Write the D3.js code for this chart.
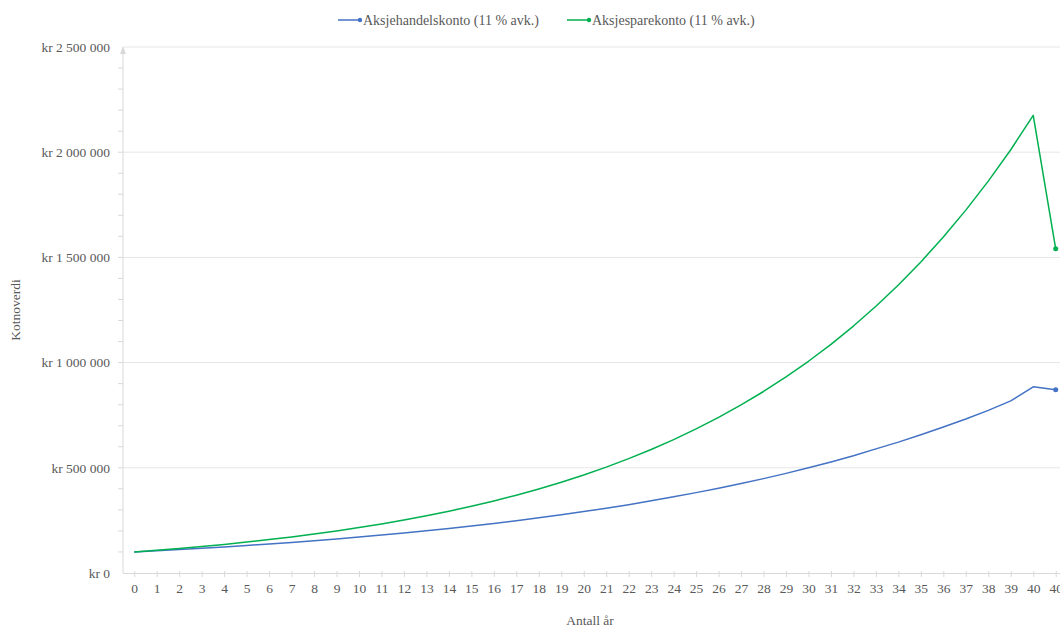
<!DOCTYPE html>
<html>
<head>
<meta charset="utf-8">
<script src="https://cdn.jsdelivr.net/npm/d3@7"></script>
<style>
  html, body { margin: 0; padding: 0; background: #fff; }
  svg { display: block; }
  text { font-family: "Liberation Serif", "Times New Roman", serif; fill: #595959; }
</style>
</head>
<body>
<svg id="chart" width="1060" height="631"></svg>
<script>
// Year labels along the x axis (the final year appears twice: before and after withdrawal)
const years = ["0","1","2","3","4","5","6","7","8","9","10","11","12","13","14","15","16","17","18","19","20",
  "21","22","23","24","25","26","27","28","29","30","31","32","33","34","35","36","37","38","39","40","40"];

// Account value per year, trading account
const aksjehandelskonto = [100000,105500,111300,117400,123900,130700,137900,145500,153500,161900,170800,
  180200,190100,200600,211600,223300,235500,248500,262100,276600,291800,
  307800,324800,343000,362000,382000,403000,425000,448500,473500,500000,
  527500,557000,590000,622000,657000,694000,732000,773000,818000,885000,871000];

// Account value per year, share savings account
const aksjesparekonto = [100000,108000,116600,126000,136000,146900,158700,171400,185100,199900,215900,
  233200,251800,272000,293700,317200,342600,370000,399600,431600,466100,
  503400,543700,587200,634100,684800,739600,798800,862700,931700,1006300,
  1086800,1173700,1267700,1369100,1478600,1596900,1724700,1862700,2011700,2175000,1541000];

const seriesNames = ["Aksjehandelskonto (11 % avk.)", "Aksjesparekonto (11 % avk.)"];
const seriesColors = ["#4472C4", "#00B050"];
const yTicks = [0, 500000, 1000000, 1500000, 2000000, 2500000];
const yMinorTicks = d3.range(0, 2500001, 100000);

const svg = d3.select("#chart");
const idx = d3.range(years.length);

const x = d3.scalePoint().domain(idx).range([123, 123 + 42 * 22.475]).padding(0.5);
const y = d3.scaleLinear().domain([0, 2500000]).range([573, 47]);

const fmtKr = v => "kr " + d3.format(",")(v).replace(/,/g, " ");

// horizontal gridlines
svg.append("g").selectAll("line").data(yTicks.filter(d => d > 0)).join("line")
  .attr("x1", 123).attr("x2", 1060)
  .attr("y1", d => y(d)).attr("y2", d => y(d))
  .attr("stroke", "#e6e6e6").attr("stroke-width", 1);

// y axis line with arrow head and minor ticks
const yAxisG = svg.append("g");
yAxisG.append("line").attr("x1", 123).attr("x2", 123)
  .attr("y1", y(0)).attr("y2", y(2500000) + 2)
  .attr("stroke", "#d9d9d9").attr("stroke-width", 1);
yAxisG.append("path")
  .attr("d", `M${123},${y(2500000) - 1} L${120},${y(2500000) + 7} L${126},${y(2500000) + 7} Z`)
  .attr("fill", "#d9d9d9");
yAxisG.selectAll("line.minor").data(yMinorTicks.filter(d => d > 0 && d < 2500000)).join("line")
  .attr("class", "minor")
  .attr("x1", 118).attr("x2", 123)
  .attr("y1", d => y(d)).attr("y2", d => y(d))
  .attr("stroke", "#d9d9d9");
yAxisG.selectAll("text").data(yTicks).join("text")
  .attr("x", 110).attr("y", d => y(d)).attr("dy", "0.35em")
  .attr("text-anchor", "end").attr("font-size", 13.5)
  .text(fmtKr);

// x axis
const xAxis = d3.axisBottom(x).tickSize(4).tickSizeOuter(0).tickFormat(i => years[i]);
const xg = svg.append("g").attr("transform", `translate(0,${y(0)})`).call(xAxis);
xg.select(".domain").attr("d", `M123,0.5H1060`).attr("stroke", "#d9d9d9");
xg.selectAll(".tick line").attr("stroke", "#d9d9d9").attr("y1", -2).attr("y2", 4);
xg.selectAll(".tick text").attr("y", 15).attr("dy", "0.35em")
  .attr("font-size", 13.5).attr("fill", "#595959")
  .attr("font-family", "Liberation Serif, Times New Roman, serif");

// axis titles
svg.append("text").attr("x", 590).attr("y", 625)
  .attr("text-anchor", "middle").attr("font-size", 13.5).text("Antall år");
svg.append("text").attr("transform", "translate(20,310) rotate(-90)")
  .attr("text-anchor", "middle").attr("font-size", 13.5).text("Kotnoverdi");

// series lines and end markers
const line = d3.line().x((d, i) => x(i)).y(d => y(d));
[aksjehandelskonto, aksjesparekonto].forEach((vals, k) => {
  svg.append("path").datum(vals)
    .attr("d", line).attr("fill", "none")
    .attr("stroke", seriesColors[k]).attr("stroke-width", 1.5)
    .attr("stroke-linejoin", "round");
  const last = vals.length - 1;
  svg.append("circle").attr("cx", x(last)).attr("cy", y(vals[last]))
    .attr("r", 2.5).attr("fill", seriesColors[k]);
});

// legend
const legendX = [338, 567];
seriesNames.forEach((name, k) => {
  const g = svg.append("g").attr("transform", `translate(${legendX[k]},20)`);
  g.append("line").attr("x1", 0).attr("x2", 22).attr("y1", 0).attr("y2", 0)
    .attr("stroke", seriesColors[k]).attr("stroke-width", 1.5);
  g.append("circle").attr("cx", 22).attr("cy", 0).attr("r", 2.2).attr("fill", seriesColors[k]);
  g.append("text").attr("x", 25).attr("y", 0).attr("dy", "0.35em")
    .attr("font-size", 14).text(name);
});
</script>
</body>
</html>
